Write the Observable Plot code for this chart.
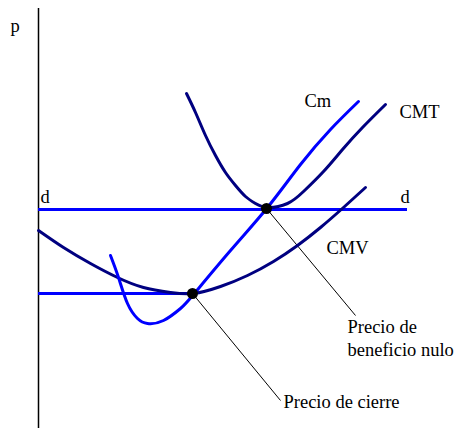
<!DOCTYPE html>
<html>
<head>
<meta charset="utf-8">
<script src="https://cdn.jsdelivr.net/npm/d3@7"></script>
<script src="https://cdn.jsdelivr.net/npm/@observablehq/plot@0.6"></script>
<style>
  body { margin: 0; background: #fff; }
  svg { display: block; }
</style>
</head>
<body>
<div id="chart"></div>
<script>
// Coordinates: x = quantity position, p = price
const cmtX = [186, 195, 205, 215, 225, 235, 245, 255, 267, 287, 303, 323, 342, 362, 385];
const cmtP = [335, 316, 293, 273, 256, 243, 232, 225, 221, 225, 237, 257, 279, 301, 324];

const cmX = [110, 118, 127, 137, 147, 163, 180, 193, 230, 267, 300, 330, 358];
const cmP = [173, 151, 125, 110, 105, 108, 120, 134, 178, 221, 264, 299, 327];

const cmvX = [38, 63, 90, 117, 143, 170, 193, 220, 247, 273, 297, 320, 343, 365];
const cmvP = [198, 181, 165, 151, 141, 136, 135, 142, 153, 167, 183, 201, 221, 241];

const dPrice = 219;          // demand / price line d
const dX = [38, 407];
const closePrice = 135;      // shutdown price line
const closeX = [38, 192];

const pointX = [266, 192];
const pointP = [220, 135];

const leaderX1 = [266, 192];
const leaderP1 = [220, 135];
const leaderX2 = [355, 280];
const leaderP2 = [113, 28];

const labelText = ["p", "d", "d", "Cm", "CMT", "CMV", "Precio de", "beneficio nulo", "Precio de cierre"];
const labelX = [10, 40, 400, 304, 399, 326, 347, 347, 283];
const labelP = [402, 231, 231, 327, 316, 180, 101, 78, 26];

const axisX = 38;
const axisP = [0, 420];

const toRows = (xs, ps) => xs.map((x, i) => ({x, p: ps[i]}));
const cmt = toRows(cmtX, cmtP);
const cm = toRows(cmX, cmP);
const cmv = toRows(cmvX, cmvP);
const points = toRows(pointX, pointP);
const leaders = leaderX1.map((x, i) => ({x1: x, y1: leaderP1[i], x2: leaderX2[i], y2: leaderP2[i]}));
const labels = labelText.map((t, i) => ({t, x: labelX[i], p: labelP[i]}));

const navy = "#000080";
const blue = "#0000ff";

const chart = Plot.plot({
  width: 455,
  height: 428,
  margin: 0,
  style: {background: "#fff", fontFamily: "'Liberation Serif', 'Times New Roman', serif"},
  x: {domain: [0, 455], axis: null},
  y: {domain: [0, 428], axis: null},
  marks: [
    Plot.ruleX([axisX], {y1: axisP[0], y2: axisP[1], stroke: "#000", strokeWidth: 1.5}),
    Plot.ruleY([dPrice], {x1: dX[0], x2: dX[1], stroke: blue, strokeWidth: 3}),
    Plot.ruleY([closePrice], {x1: closeX[0], x2: closeX[1], stroke: blue, strokeWidth: 3}),
    Plot.link(leaders, {x1: "x1", y1: "y1", x2: "x2", y2: "y2", stroke: "#000", strokeWidth: 1}),
    Plot.line(cmv, {x: "x", y: "p", curve: "natural", stroke: navy, strokeWidth: 3}),
    Plot.line(cmt, {x: "x", y: "p", curve: "natural", stroke: navy, strokeWidth: 3}),
    Plot.line(cm, {x: "x", y: "p", curve: "natural", stroke: blue, strokeWidth: 3}),
    Plot.dot(points, {x: "x", y: "p", r: 5.5, fill: "#000", stroke: "none"}),
    Plot.text(labels, {x: "x", y: "p", text: "t", textAnchor: "start", lineAnchor: "middle", fontSize: 18.5, fill: "#000"})
  ]
});
document.getElementById("chart").appendChild(chart);
</script>
</body>
</html>
